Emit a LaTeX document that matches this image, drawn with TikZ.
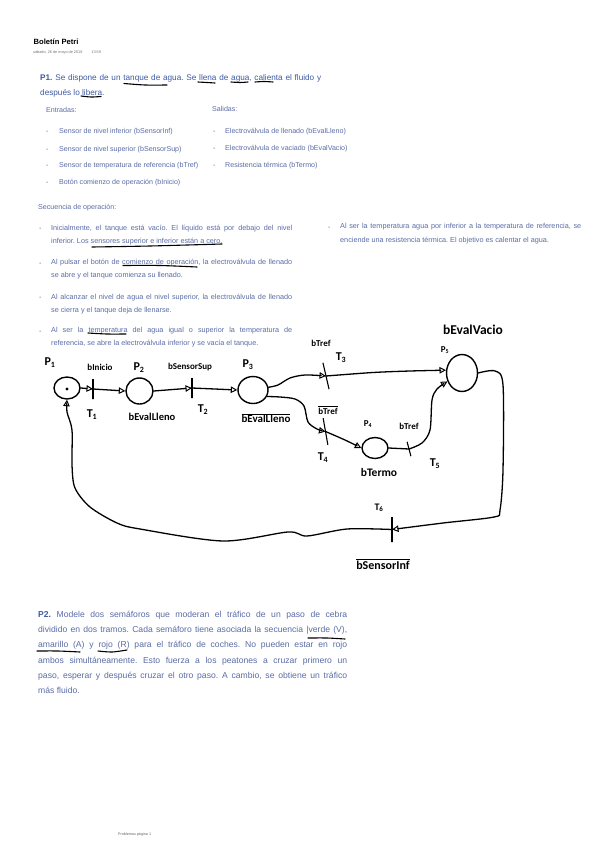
\documentclass[tikz,border=0pt]{standalone}
\usepackage{fontspec}
\setmainfont{Liberation Sans}
\newfontfamily\handfont{Carlito}
\usetikzlibrary{arrows.meta,shapes.geometric}
\definecolor{bodyblue}{HTML}{5A6CA6}
\definecolor{headblue}{HTML}{3F5AA3}
\newcommand{\ovl}[1]{$\overline{\hbox{#1}}$}
\frenchspacing
\tikzset{
  txt/.style={anchor=base west,inner sep=0pt,text=bodyblue,font=\fontsize{7.1}{13}\selectfont},
  para/.style={anchor=north west,inner sep=0pt,text=bodyblue,align=justify,font=\fontsize{7.25}{13.2}\selectfont},
  bigpara/.style={anchor=north west,inner sep=0pt,text=headblue,align=justify,font=\fontsize{8.2}{14.4}\selectfont},
  ink/.style={line width=1.3pt,line cap=round,line join=round,black},
  mark under/.style={line width=1.1pt,line cap=round,black},
  arc/.style={ink,-{Triangle[open,length=6.5pt,width=6.5pt,line width=1pt]}},
  line/.style={ink},
  place/.style={ellipse,draw,line width=1.4pt,inner sep=0pt,black},
  bar/.style={draw,line width=1.1pt,inner sep=0pt,minimum width=0pt,black},
  hand/.style={inner sep=0pt,black,font=\handfont\bfseries\fontsize{#1}{#1}\selectfont},
  hand/.default=9,
  handbig/.style={inner sep=0pt,black,font=\handfont\bfseries\fontsize{12}{12}\selectfont},
}
\begin{document}
\begin{tikzpicture}[x=1pt,y=-1pt]
\useasboundingbox (0,0) rectangle (601,848);
\fill[white] (0,0) rectangle (601,848);
% header
\node[inner sep=0pt,anchor=base west,black,font=\bfseries\fontsize{7.6}{9}\selectfont] (title) at (33.5,45) {Boletín Petri};
\node[inner sep=0pt,anchor=base west,text=black!55,font=\fontsize{3.8}{5}\selectfont] (date) at (33,53.2) {sábado, 26 de mayo de 2018\hspace{9pt}13:59};
% P1
\node[bigpara,text width=281pt] (p1text) at (40,74.5) {\textbf{P1.} Se dispone de un tanque de agua. Se llena de agua, calienta el fluido y\linebreak después lo libera.};
\node[txt] (entradas) at (46,112.5) {Entradas:};
\node[txt] (salidas) at (212,111.5) {Salidas:};
\node[txt] (d1) at (46,134) {-};
\node[txt] (e1) at (59,134) {Sensor de nivel inferior (bSensorInf)};
\node[txt] (d2) at (46,151) {-};
\node[txt] (e2) at (59,151) {Sensor de nivel superior (bSensorSup)};
\node[txt] (d3) at (46,167.5) {-};
\node[txt] (e3) at (59,167.5) {Sensor de temperatura de referencia (bTref)};
\node[txt] (d4) at (46,184) {-};
\node[txt] (e4) at (59,184) {Botón comienzo de operación (bInicio)};
\node[txt] (d5) at (213,133) {-};
\node[txt] (s1) at (225,133) {Electroválvula de llenado (bEvalLleno)};
\node[txt] (d6) at (213,150.5) {-};
\node[txt] (s2) at (225,150.5) {Electroválvula de vaciado (bEvalVacio)};
\node[txt] (d7) at (213,167.5) {-};
\node[txt] (s3) at (225,167.5) {Resistencia térmica (bTermo)};
\node[txt] (sec) at (38,209.5) {Secuencia de operación:};
% sequence
\node[txt] (d8) at (39,230.5) {-};
\node[para,text width=241pt] (q1) at (51,224.5) {Inicialmente, el tanque está vacío. El líquido está por debajo del nivel\linebreak inferior. Los sensores superior e inferior están a cero.};
\node[txt] (d9) at (39,265) {-};
\node[para,text width=241pt] (q2) at (51,258.5) {Al pulsar el botón de comienzo de operación, la electroválvula de llenado\linebreak se abre y el tanque comienza su llenado.};
\node[txt] (d10) at (39,299.5) {-};
\node[para,text width=241pt] (q3) at (51,293.5) {Al alcanzar el nivel de agua el nivel superior, la electroválvula de llenado\linebreak se cierra y el tanque deja de llenarse.};
\node[txt] (d11) at (39,333.5) {-};
\node[para,text width=241pt] (q4) at (51,327) {Al ser la temperatura del agua igual o superior la temperatura de\linebreak referencia, se abre la electroválvula inferior y se vacía el tanque.};
\node[txt] (d12) at (328,229.5) {-};
\node[para,text width=241pt] (q5) at (340,223.5) {Al ser la temperatura agua por inferior a la temperatura de referencia, se\linebreak enciende una resistencia térmica. El objetivo es calentar el agua.};
% P2
\node[bigpara,text=bodyblue,text width=309pt,font=\fontsize{8.6}{15.2}\selectfont] (p2text) at (38,611) {\textcolor{headblue}{\textbf{P2.}} Modele dos semáforos que moderan el tráfico de un paso de cebra\linebreak dividido en dos tramos. Cada semáforo tiene asociada la secuencia |verde (V),\linebreak amarillo (A) y rojo (R) para el tráfico de coches. No pueden estar en rojo\linebreak ambos simultáneamente. Esto fuerza a los peatones a cruzar primero un\linebreak paso, esperar y después cruzar el otro paso. A cambio, se obtiene un tráfico\linebreak más fluido.};
\node[inner sep=0pt,anchor=base west,text=black!60,font=\fontsize{3.7}{5}\selectfont] (foot) at (118,835.5) {Problemas página 1};
% underlines
\draw[mark under] plot[smooth] coordinates {(124,83.5) (145,85) (167,85)};
\draw[mark under] plot[smooth] coordinates {(198,82) (207,82.5) (215,83)};
\draw[mark under] plot[smooth] coordinates {(231,82) (240,82.5) (248,82)};
\draw[mark under] plot[smooth] coordinates {(255,82) (264,81.5) (273,82)};
\draw[mark under] plot[smooth] coordinates {(81,96) (91,97) (101,96.5)};
\draw[mark under] plot[smooth] coordinates {(92,247) (150,246) (222,244)};
\draw[mark under] plot[smooth] coordinates {(123,265.5) (160,265.5) (197,267)};
\draw[mark under] plot[smooth] coordinates {(88,333) (107,334) (126,334)};
\draw[mark under] plot[smooth] coordinates {(308,638) (327,638) (345,639)};
\draw[mark under] plot[smooth] coordinates {(37,651) (58,651) (80,652)};
\draw[mark under] plot[smooth] coordinates {(98,651) (112,652) (127,650)};
% places
\node[place,minimum width=26pt,minimum height=22pt] (P1) at (67,388) {};
\fill (67,389) circle (1.6pt);
\node[place,minimum width=27pt,minimum height=26pt] (P2) at (139.5,391) {};
\node[place,minimum width=30pt,minimum height=27pt] (P3) at (253,390) {};
\node[place,minimum width=26pt,minimum height=21pt] (P4) at (375,448) {};
\node[place,minimum width=31pt,minimum height=37pt] (P5) at (462,373) {};
% transitions
\node[bar,minimum height=20pt] (T1) at (93,389) {};
\node[bar,minimum height=20pt] (T2) at (192,388) {};
\node[bar,minimum height=27pt,rotate=13] (T3) at (326,376) {};
\node[bar,minimum height=27pt,rotate=10] (T4) at (325.5,431.5) {};
\node[bar,minimum height=15pt,rotate=15] (T5) at (409,449) {};
\node[bar,minimum height=25pt] (T6) at (392,529.5) {};
% arcs
\draw[arc] (P1.east) -- (T1.center);
\draw[arc] (T1.center) -- (P2.west);
\draw[arc] (P2.east) -- (T2.center);
\draw[arc] (T2.center) -- (P3.west);
\draw[arc] plot[smooth] coordinates {(P3.10) (278,385) (290,378) (305,375) (T3.center)};
\draw[arc] plot[smooth] coordinates {(T3.center) (373,372.5) (410,371) (P5.170)};
\draw[arc] plot[smooth] coordinates {(P3.-25) (280,397) (295,399) (304,406) (308,422) (317,429) (T4.center)};
\draw[arc] plot[smooth] coordinates {(T4.center) (345,440) (P4.west)};
\draw[line] (P4.east) -- (T5.center);
\draw[arc] plot[smooth] coordinates {(T5.center) (422,443) (430,430) (432,400) (437,389) (P5.-150)};
\draw[arc] plot[smooth] coordinates {(P5.east) (495,371) (503,385) (503,470) (500,510) (494,517) (443,523) (T6.center)};
\draw[arc] plot[smooth] coordinates {(T6.center) (347,529) (307,536) (288,532) (223,541) (140,529) (117,523) (90,507) (75,488) (72,465) (72,430) (67,412) (P1.south)};
% handwritten labels
\node[handbig] (lp1) at (50,363) {P\textsubscript{1}};
\node[hand] (lbi) at (100,367) {bInicio};
\node[handbig] (lp2) at (139,368) {P\textsubscript{2}};
\node[hand] (lbs) at (190,367) {bSensorSup};
\node[handbig] (lp3) at (248,365) {P\textsubscript{3}};
\node[handbig] (lt1) at (92,415) {T\textsubscript{1}};
\node[hand=10.5] (lev) at (152,417) {bEvalLleno};
\node[handbig] (lt2) at (203,410) {T\textsubscript{2}};
\node[hand=11] (lnev) at (266,418) {\ovl{bEvalLleno}};
\node[hand] (ltr) at (321,343) {bTref};
\node[handbig] (lt3) at (341,358) {T\textsubscript{3}};
\node[hand=13.5] (lbv) at (473,330) {bEvalVacio};
\node[hand] (lp5) at (445,350) {P\textsubscript{5}};
\node[hand] (lntr) at (328,410) {\ovl{bTref}};
\node[hand] (lp4) at (368,424) {P\textsubscript{4}};
\node[hand] (ltr2) at (409,426) {bTref};
\node[handbig] (lt4) at (323,458) {T\textsubscript{4}};
\node[handbig] (lt5) at (435,464) {T\textsubscript{5}};
\node[hand=11.5] (lbt) at (379,473) {bTermo};
\node[hand=10] (lt6) at (379,508) {T\textsubscript{6}};
\node[hand=12] (lnsi) at (383,564) {\ovl{bSensorInf}};
\end{tikzpicture}
\end{document}
